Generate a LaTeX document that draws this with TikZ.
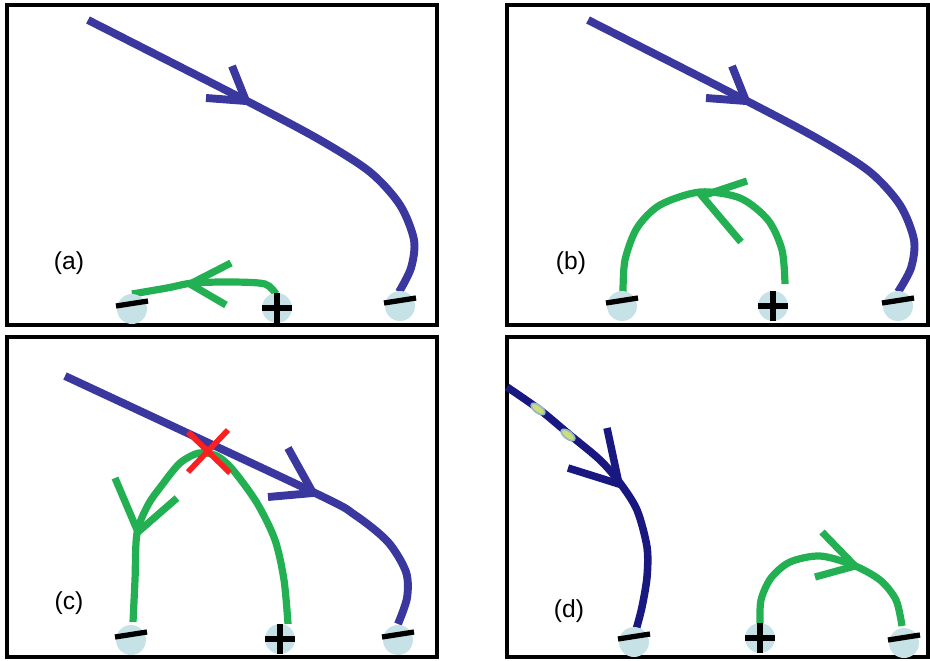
\documentclass[tikz,border=0pt]{standalone}
\usepackage{fontspec}
\setmainfont{Liberation Sans}
\usetikzlibrary{shapes.geometric}

\definecolor{fieldblue}{RGB}{58,56,158}
\definecolor{fieldnavy}{RGB}{24,24,128}
\definecolor{fieldgreen}{RGB}{34,176,82}
\definecolor{capblue}{RGB}{198,226,230}
\definecolor{crossred}{RGB}{250,32,32}
\definecolor{chargefill}{RGB}{205,222,120}
\definecolor{chargeedge}{RGB}{150,185,200}

% electrodes: light disc with a drawn sign
\newcommand{\negelec}[2]{%
  \node[elec] (#1) at (#2) {};
  \draw[sign] ([shift={(-16,-3)}]#1.center) -- ([shift={(16,-8)}]#1.center);}
\newcommand{\poselec}[2]{%
  \node[elec] (#1) at (#2) {};
  \draw[sign] ([shift={(-15,0)}]#1.center) -- ([shift={(15,0)}]#1.center)
              ([shift={(0,-15)}]#1.center) -- ([shift={(0,15)}]#1.center);}

\begin{document}
\begin{tikzpicture}[x=0.02cm, y=-0.02cm,
    panel/.style={draw=black, line width=1.8pt},
    elec/.style={circle, fill=capblue, minimum size=0.6cm, inner sep=0pt},
    sign/.style={draw=black, line width=3pt},
    bluefl/.style={draw=fieldblue, line width=4.5pt},
    navyfl/.style={draw=fieldnavy, line width=4.3pt},
    greenfl/.style={draw=fieldgreen, line width=4.1pt},
    chev/.style={line join=miter},
    lbl/.style={font=\fontsize{14}{16}\selectfont},
    charge/.style={ellipse, draw=chargeedge, fill=chargefill, line width=1pt,
                   minimum width=0.32cm, minimum height=0.15cm, inner sep=0pt},
  ]
  \useasboundingbox (0,0) rectangle (930,660);

  % frames
  \draw[panel] (7,5) rectangle (437,325);
  \draw[panel] (507,5) rectangle (928,325);
  \draw[panel] (7,337) rectangle (437,657);
  \draw[panel] (507,337) rectangle (928,657);

  % (a)
  \node[lbl] (la) at (69,263) {(a)};
  \draw[bluefl] plot[smooth] coordinates {(88,20) (245,100) (320,140) (370,172)
    (400,205) (414,240) (411,268) (399,292)};
  \draw[bluefl, chev] (232,66) -- (246,101) -- (206,98);
  \draw[greenfl] plot[smooth] coordinates {(132,294) (167,288) (193,283)
    (233,282) (265,284) (276,294)};
  \draw[greenfl, chev] (231,263) -- (190,284) -- (226,305);
  \negelec{am1}{132,309}
  \poselec{ap}{277,308}
  \negelec{am2}{400,306}

  % (b)
  \node[lbl] (lb) at (571,263) {(b)};
  \draw[bluefl] plot[smooth] coordinates {(588,20) (745,100) (820,140) (870,172)
    (900,205) (914,240) (911,268) (898,292)};
  \draw[bluefl, chev] (732,66) -- (746,101) -- (706,98);
  \draw[greenfl] plot[smooth] coordinates {(623,292) (625,260) (637,228)
    (660,205) (700,192) (740,198) (768,220) (782,250) (785,284)};
  \draw[greenfl, chev] (747,181) -- (702,196) -- (741,242);
  \negelec{bm1}{622,306}
  \poselec{bp}{773,306}
  \negelec{bm2}{898,306}

  % (c)
  \node[lbl] (lc) at (69,603) {(c)};
  \draw[bluefl] plot[smooth] coordinates {(65,376) (313,492) (355,515)
    (388,542) (406,572) (407,598) (398,624)};
  \draw[bluefl, chev] (288,448) -- (313,493) -- (268,497);
  \draw[greenfl] plot[smooth] coordinates {(133,622) (135,580) (137,533)
    (148,505) (162,485) (180,463) (199,453) (217,456) (233,470) (257,503)
    (275,540) (284,580) (288,624)};
  \draw[greenfl, chev] (115,478) -- (138,532) -- (177,498);
  \draw[draw=crossred, line width=3.2pt] (188,432) -- (230,473) (228,430) -- (188,472);
  \negelec{cm1}{131,640}
  \poselec{cp}{280,639}
  \negelec{cm2}{398,640}

  % (d)
  \node[lbl] (ld) at (569,611) {(d)};
  \draw[navyfl] plot[smooth] coordinates {(507,387) (540,410) (570,435)
    (600,460) (620,483) (637,510) (647,547) (647,577) (642,607) (636,630)};
  \draw[navyfl, chev] (607,428) -- (619,484) -- (568,468);
  \node[charge, rotate=-37] (q1) at (538,409) {};
  \node[charge, rotate=-37] (q2) at (568,435) {};
  \draw[greenfl] plot[smooth] coordinates {(760,624) (761,600) (771,578)
    (790,562) (820,556) (853,565) (880,580) (896,600) (902,626)};
  \draw[greenfl, chev] (822,532) -- (855,566) -- (815,577);
  \negelec{dm1}{634,642}
  \poselec{dp}{760,638}
  \negelec{dm2}{904,643}
\end{tikzpicture}
\end{document}
